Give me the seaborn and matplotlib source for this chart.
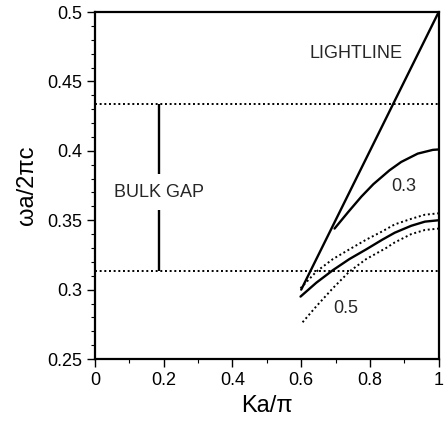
import numpy as np
import pandas as pd
import seaborn as sns
import matplotlib
matplotlib.use("Agg")
import matplotlib.pyplot as plt
from matplotlib.ticker import MultipleLocator, FuncFormatter

# light line
light_k = [0.60, 1.00]
light_w = [0.300, 0.500]

# guided band, width 0.3
band03_k = [0.697, 0.737, 0.775, 0.810, 0.857, 0.891, 0.939, 0.983, 1.00]
band03_w = [0.344, 0.356, 0.367, 0.376, 0.386, 0.392, 0.398, 0.4007, 0.401]

# guided band, width 0.5 (solid) and its two dotted neighbours
band05_k = [0.598, 0.644, 0.692, 0.740, 0.789, 0.836, 0.872, 0.920, 0.960, 1.00]
band05_w = [0.295, 0.305, 0.314, 0.322, 0.329, 0.336, 0.341, 0.346, 0.349, 0.350]

upper_k = [0.598, 0.644, 0.692, 0.740, 0.789, 0.836, 0.872, 0.920, 0.960, 1.00]
upper_w = [0.301, 0.313, 0.322, 0.329, 0.336, 0.342, 0.347, 0.351, 0.354, 0.355]

lower_k = [0.604, 0.644, 0.692, 0.740, 0.789, 0.847, 0.872, 0.920, 0.960, 1.00]
lower_w = [0.2765, 0.288, 0.301, 0.313, 0.322, 0.330, 0.334, 0.340, 0.343, 0.344]

# bulk band gap edges
gap_edges = [0.4335, 0.3135]
gap_k = 0.187

sns.set_theme(style="ticks")
plt.rcParams['font.family'] = ['Liberation Sans', 'DejaVu Sans']

fig = plt.figure(figsize=(4.44, 4.30), dpi=100)
ax = fig.add_axes([0.214, 0.165, 0.774, 0.807])

dotted = (0, (1, 1.4))
lw = 1.7

for ge in gap_edges:
    ax.axhline(ge, color="black", linestyle=dotted, linewidth=1.4)

ax.vlines(gap_k, gap_edges[1], gap_edges[0], color="black", linewidth=lw)
ax.text(gap_k, 0.367, "BULK GAP", ha="center", va="baseline", fontsize=13,
        bbox=dict(facecolor="white", edgecolor="none", pad=7))

curves = pd.DataFrame({
    "k": light_k + band03_k + band05_k,
    "w": light_w + band03_w + band05_w,
    "name": ["light"] * len(light_k) + ["b03"] * len(band03_k) + ["b05"] * len(band05_k),
})
for name, sub in curves.groupby("name"):
    sns.lineplot(data=sub, x="k", y="w", ax=ax, color="black", linewidth=lw,
                 sort=False, estimator=None, solid_joinstyle="round")

sns.lineplot(x=upper_k, y=upper_w, ax=ax, color="black", linewidth=1.4,
             linestyle=dotted, sort=False, estimator=None)
sns.lineplot(x=lower_k, y=lower_w, ax=ax, color="black", linewidth=1.4,
             linestyle=dotted, sort=False, estimator=None)

ax.text(0.759, 0.4668, "LIGHTLINE", ha="center", va="baseline", fontsize=13)
ax.text(0.898, 0.371, "0.3", ha="center", va="baseline", fontsize=13)
ax.text(0.729, 0.283, "0.5", ha="center", va="baseline", fontsize=13)

ax.set_xlim(0, 1)
ax.set_ylim(0.25, 0.5)
ax.xaxis.set_major_locator(MultipleLocator(0.2))
ax.xaxis.set_minor_locator(MultipleLocator(0.1))
ax.yaxis.set_major_locator(MultipleLocator(0.05))
ax.yaxis.set_minor_locator(MultipleLocator(0.01))
fmt = FuncFormatter(lambda v, p: "%g" % round(v, 3))
ax.xaxis.set_major_formatter(fmt)
ax.yaxis.set_major_formatter(fmt)

ax.tick_params(which="major", direction="out", length=6, width=1, labelsize=13,
               color="black", labelcolor="black")
ax.tick_params(which="minor", direction="out", length=3, width=0.8, color="black")
for s in ax.spines.values():
    s.set_visible(True)
    s.set_linewidth(1.6)
    s.set_color("black")

ax.set_xlabel("Ka/\u03c0", fontsize=17, color="black", labelpad=4)
ax.set_ylabel("\u03c9a/2\u03c0c", fontsize=17, color="black", labelpad=6)

fig.savefig("out.png", dpi=100)
